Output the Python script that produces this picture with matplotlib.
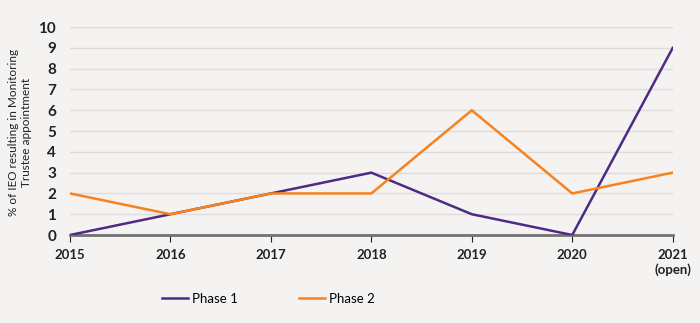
import matplotlib.pyplot as plt

years = ["2015", "2016", "2017", "2018", "2019", "2020", "2021\n(open)"]
phase1 = [0, 1, 2, 3, 1, 0, 9]
phase2 = [2, 1, 2, 2, 6, 2, 3]

bg = "#f4f3f1"
purple = "#4e2a84"
orange = "#f7821e"

plt.rcParams["font.family"] = ["Lato", "DejaVu Sans"]

fig = plt.figure(figsize=(7, 3.23), dpi=100, facecolor=bg)
ax = fig.add_axes([0.1, 0.2724, 0.861, 0.6436], facecolor=bg)

x = range(len(years))
ax.plot(x, phase1, color=purple, lw=1.8, label="Phase 1")
ax.plot(x, phase2, color=orange, lw=1.8, label="Phase 2")

ax.set_xlim(0, len(years) - 1)
ax.set_ylim(0, 10)
ax.set_yticks(range(0, 11))
ax.set_xticks(list(x))
ax.set_xticklabels(years)
ax.grid(axis="y", color="#dddcda", lw=1)
ax.set_axisbelow(True)

for s in ["top", "right", "left"]:
    ax.spines[s].set_visible(False)
ax.spines["bottom"].set_color("#727272")
ax.spines["bottom"].set_linewidth(2)
ax.spines["bottom"].set_zorder(1)
ax.tick_params(axis="x", length=5, color="#222222", labelsize=9.5, pad=5)
ax.tick_params(axis="y", length=0, labelsize=11, pad=10)
for lbl in ax.get_xticklabels() + ax.get_yticklabels():
    lbl.set_color("#222222")
    lbl.set_fontweight("bold")
ax.get_xticklabels()[-1].set_horizontalalignment("center")

# y-axis title placed by hand so it sits close to the left edge
fig.text(0.029, 0.59, "% of IEO resulting in Monitoring\nTrustee appointment",
         rotation=90, ha="center", va="center", fontsize=8.5, color="#222222",
         multialignment="center")

fig.legend(loc="lower center", bbox_to_anchor=(0.383, 0.02), ncol=2, frameon=False,
           fontsize=9.5, handlelength=2.0, handletextpad=0.3, columnspacing=4.6)

fig.savefig("out.png", dpi=100, facecolor=bg)
